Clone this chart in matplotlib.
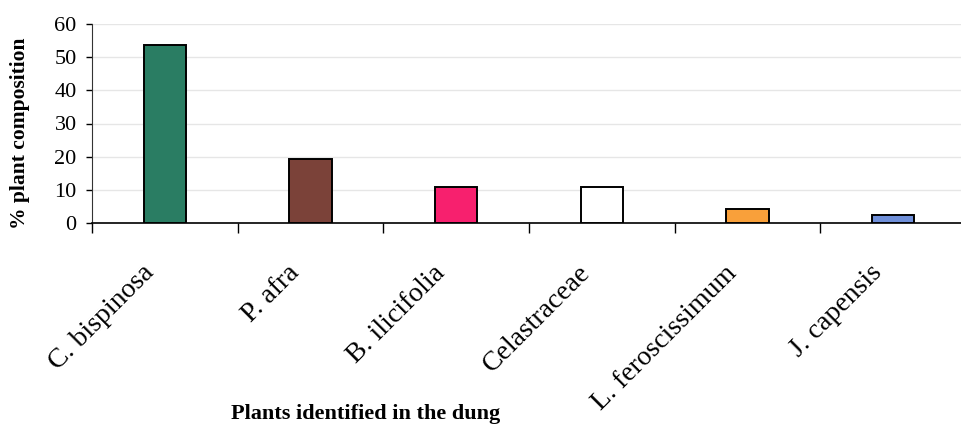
import matplotlib
matplotlib.use("Agg")
import matplotlib.pyplot as plt
import numpy as np
from matplotlib.ticker import FixedLocator, NullFormatter
import matplotlib.transforms as mtransforms

categories = ["C. bispinosa", "P. afra", "B. ilicifolia", "Celastraceae",
              "L. feroscissimum", "J. capensis"]
values = [53.7, 19.3, 10.9, 10.9, 4.2, 2.4]
colors = ["#2A7D63", "#7B4239", "#F7206E", "#FFFFFF", "#F9A03A", "#7090DA"]
yticks = [0, 10, 20, 30, 40, 50, 60]

plt.rcParams['font.family'] = ['Liberation Serif', 'DejaVu Serif']

fig = plt.figure(figsize=(9.61, 4.28), dpi=100)
ax = fig.add_axes([92/961, (428-223)/428, 874/961, (223-24)/428])

x = np.arange(len(categories))
ax.bar(x, values, width=0.29, color=colors, edgecolor="black", linewidth=1.4, zorder=3)

ax.set_xlim(-0.5, len(categories) - 0.5)
ax.set_ylim(0, 60)
ax.set_yticks(yticks)
ax.yaxis.grid(True, color="#e6e6e6", linewidth=1.0, zorder=0)
ax.tick_params(axis='y', labelsize=16, length=4, width=1, pad=7, direction='out')

ax.xaxis.set_major_locator(FixedLocator(np.arange(len(categories) + 1) - 0.5))
ax.xaxis.set_major_formatter(NullFormatter())
ax.xaxis.set_minor_locator(FixedLocator(x))
ax.set_xticklabels(categories, minor=True)
ax.tick_params(axis='x', which='major', length=7, width=1, direction='out')
ax.tick_params(axis='x', which='minor', length=0, pad=27, labelsize=20)
offset = mtransforms.ScaledTranslation(-6/100, 0, fig.dpi_scale_trans)
for lab in ax.get_xticklabels(minor=True):
    lab.set_rotation(45)
    lab.set_ha('right')
    lab.set_va('top')
    lab.set_transform(lab.get_transform() + offset)

for s in ['top', 'right']:
    ax.spines[s].set_visible(False)
ax.spines['left'].set_color('#333333')
ax.spines['bottom'].set_color('black')
ax.spines['bottom'].set_linewidth(1.2)

fig.text(20/961, 1 - 133/428, "% plant composition", rotation=90, ha='center', va='center',
         fontsize=15.5, fontweight='bold')
fig.text(366/961, 1 - 414/428, "Plants identified in the dung", ha='center', va='center',
         fontsize=16, fontweight='bold')

fig.savefig("out.png", dpi=100)
